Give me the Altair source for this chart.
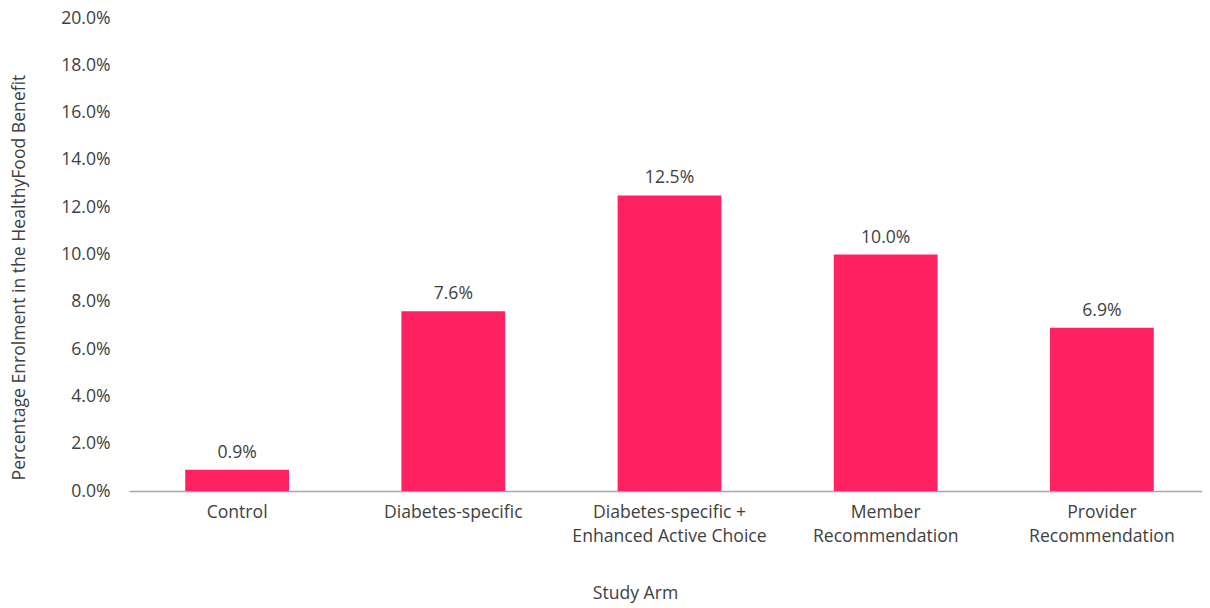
import altair as alt
import pandas as pd

categories = [
    "Control",
    "Diabetes-specific",
    "Diabetes-specific +\nEnhanced Active Choice",
    "Member\nRecommendation",
    "Provider\nRecommendation",
]
values = [0.009, 0.076, 0.125, 0.100, 0.069]
y_ticks = [0.0, 0.02, 0.04, 0.06, 0.08, 0.10, 0.12, 0.14, 0.16, 0.18, 0.20]

df = pd.DataFrame({"arm": categories, "pct": values})

FONT = "Open Sans"
TEXT = "#404040"
BAR = "#FF2162"
FS = 17.6

x = alt.X(
    "arm:N",
    sort=categories,
    title="Study Arm",
    scale=alt.Scale(range=[0, 1081], paddingInner=0.52, paddingOuter=0.26),
    axis=alt.Axis(
        labelExpr="split(datum.label, '\\n')",
        labelAngle=0,
        labelFont=FONT,
        labelFontSize=FS,
        labelColor=TEXT,
        labelLineHeight=24,
        labelPadding=12,
        labelBaseline="top",
        labelLimit=400,
        ticks=False,
        domainColor="#A6A6A6",
        domainWidth=1.5,
        titleFont=FONT,
        titleFontSize=FS,
        titleFontWeight="normal",
        titleColor=TEXT,
        titleX=506,
        titleY=102,
        titleBaseline="middle",
        titleAlign="center",
    ),
)

y = alt.Y(
    "pct:Q",
    title="Percentage Enrolment in the HealthyFood Benefit",
    scale=alt.Scale(domain=[0, 0.2], nice=False),
    axis=alt.Axis(
        values=y_ticks,
        format=".1%",
        grid=False,
        domain=False,
        ticks=False,
        labelFont=FONT,
        labelFontSize=FS,
        labelColor=TEXT,
        labelPadding=19,
        titleFont=FONT,
        titleFontSize=FS,
        titleFontWeight="normal",
        titleColor=TEXT,
        titleAngle=-90,
        titleX=-110,
        titleY=259,
        titleAlign="center",
        titleBaseline="middle",
    ),
)

bars = alt.Chart(df).mark_bar(color=BAR).encode(x=x, y=y)

labels = alt.Chart(df).mark_text(
    font=FONT, fontSize=FS, color=TEXT, baseline="alphabetic", dy=-12
).encode(
    x=alt.X("arm:N", sort=categories),
    y=alt.Y("pct:Q"),
    text=alt.Text("pct:Q", format=".1%"),
)

chart = (
    alt.layer(bars, labels)
    .properties(
        width=1073,
        height=473,
        background="white",
        autosize=alt.AutoSizeParams(type="none"),
        padding={"left": 121, "top": 10, "right": 0, "bottom": 117},
    )
    .configure_view(strokeWidth=0)
)

chart.save("out.html", embed_options={"renderer": "svg", "actions": False})
